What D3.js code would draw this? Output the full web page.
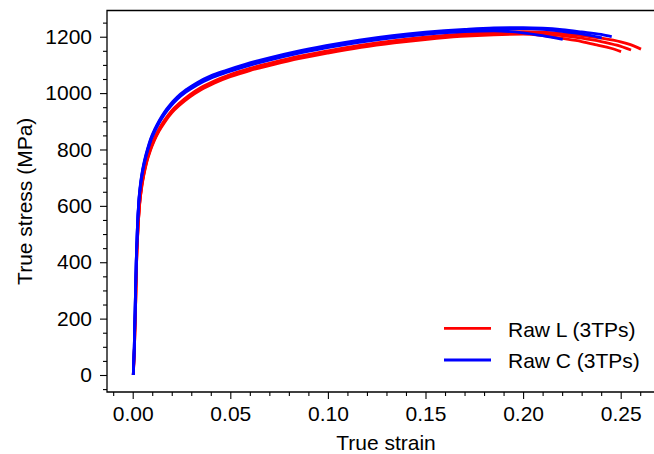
<!DOCTYPE html>
<html>
<head>
<meta charset="utf-8">
<script src="https://cdn.jsdelivr.net/npm/d3@7"></script>
<style>
  html, body { margin: 0; padding: 0; background: #fff; }
  svg { display: block; font-family: "Liberation Sans", Arial, sans-serif; }
</style>
</head>
<body>
<svg id="chart" width="654" height="454"></svg>
<script>
// True stress–strain curves, three test pieces per orientation
// Each curve: [true strain, true stress (MPa)]
const rawL1 = [
  [0.0003, 0], [0.0009, 100], [0.0015, 250], [0.0020, 400], [0.0027, 515], [0.0035, 600],
  [0.0045, 660], [0.0058, 712], [0.0072, 755], [0.0090, 795], [0.0110, 830], [0.0135, 865],
  [0.0165, 898], [0.0200, 930], [0.0240, 957], [0.0290, 985], [0.0350, 1012], [0.0420, 1036],
  [0.0500, 1058], [0.0600, 1080], [0.0720, 1101], [0.0850, 1122], [0.1000, 1142], [0.1170, 1162],
  [0.1340, 1178], [0.1510, 1191], [0.1680, 1201], [0.1850, 1207], [0.2000, 1209], [0.2100, 1204],
  [0.2200, 1194], [0.2300, 1183], [0.2377, 1171], [0.2450, 1159], [0.2502, 1147]
];
const rawL2 = [
  [0.0003, 0], [0.0009, 100], [0.0015, 252], [0.0020, 402], [0.0027, 518], [0.0035, 603],
  [0.0045, 664], [0.0058, 716], [0.0072, 759], [0.0090, 799], [0.0110, 834], [0.0135, 869],
  [0.0165, 902], [0.0200, 934], [0.0240, 961], [0.0290, 989], [0.0350, 1016], [0.0420, 1040],
  [0.0500, 1062], [0.0600, 1084], [0.0720, 1105], [0.0850, 1126], [0.1000, 1146], [0.1170, 1166],
  [0.1340, 1182], [0.1510, 1195], [0.1680, 1205], [0.1850, 1211], [0.2000, 1214], [0.2100, 1211],
  [0.2200, 1204], [0.2300, 1195], [0.2400, 1183], [0.2480, 1170], [0.2553, 1153]
];
const rawL3 = [
  [0.0003, 0], [0.0009, 100], [0.0015, 254], [0.0020, 404], [0.0027, 521], [0.0035, 606],
  [0.0045, 668], [0.0058, 720], [0.0072, 763], [0.0090, 803], [0.0110, 838], [0.0135, 873],
  [0.0165, 906], [0.0200, 938], [0.0240, 965], [0.0290, 993], [0.0350, 1020], [0.0420, 1044],
  [0.0500, 1066], [0.0600, 1088], [0.0720, 1109], [0.0850, 1130], [0.1000, 1150], [0.1170, 1170],
  [0.1340, 1186], [0.1510, 1199], [0.1680, 1209], [0.1850, 1215], [0.2000, 1218], [0.2100, 1216],
  [0.2200, 1211], [0.2300, 1204], [0.2400, 1195], [0.2500, 1182], [0.2550, 1172], [0.2604, 1156]
];
const rawC1 = [
  [0.0003, 0], [0.0008, 100], [0.0013, 250], [0.0018, 400], [0.0024, 520], [0.0031, 610],
  [0.0040, 672], [0.0050, 718], [0.0062, 758], [0.0077, 797], [0.0093, 832], [0.0113, 864],
  [0.0137, 896], [0.0163, 925], [0.0193, 952], [0.0228, 978], [0.0272, 1003], [0.0330, 1029],
  [0.0400, 1053], [0.0480, 1073], [0.0580, 1095], [0.0700, 1117], [0.0830, 1138], [0.0990, 1160],
  [0.1160, 1180], [0.1330, 1196], [0.1500, 1208], [0.1700, 1218], [0.1850, 1221], [0.2000, 1214],
  [0.2100, 1204], [0.2203, 1191]
];
const rawC2 = [
  [0.0003, 0], [0.0008, 100], [0.0013, 252], [0.0018, 402], [0.0024, 523], [0.0031, 613],
  [0.0040, 676], [0.0050, 722], [0.0062, 762], [0.0077, 801], [0.0093, 836], [0.0113, 868],
  [0.0137, 900], [0.0163, 929], [0.0193, 956], [0.0228, 982], [0.0272, 1007], [0.0330, 1033],
  [0.0400, 1057], [0.0480, 1077], [0.0580, 1099], [0.0700, 1121], [0.0830, 1142], [0.0990, 1164],
  [0.1160, 1184], [0.1330, 1200], [0.1500, 1212], [0.1700, 1222], [0.1850, 1227], [0.2000, 1229],
  [0.2100, 1226], [0.2200, 1219], [0.2300, 1210], [0.2403, 1196]
];
const rawC3 = [
  [0.0003, 0], [0.0008, 100], [0.0013, 254], [0.0018, 404], [0.0024, 526], [0.0031, 616],
  [0.0040, 680], [0.0050, 726], [0.0062, 766], [0.0077, 805], [0.0093, 840], [0.0113, 872],
  [0.0137, 904], [0.0163, 933], [0.0193, 960], [0.0228, 986], [0.0272, 1011], [0.0330, 1037],
  [0.0400, 1061], [0.0480, 1081], [0.0580, 1103], [0.0700, 1125], [0.0830, 1146], [0.0990, 1168],
  [0.1160, 1188], [0.1330, 1204], [0.1500, 1216], [0.1700, 1226], [0.1850, 1231], [0.2000, 1232],
  [0.2100, 1230], [0.2200, 1225], [0.2300, 1217], [0.2400, 1208], [0.2454, 1200]
];

const seriesNames = ["Raw L (3TPs)", "Raw C (3TPs)"];
const seriesColors = ["#ff0000", "#0000ff"];
const seriesCurves = [[rawL1, rawL2, rawL3], [rawC1, rawC2, rawC3]];

const xMajorTicks = [0.00, 0.05, 0.10, 0.15, 0.20, 0.25];
const yMajorTicks = [0, 200, 400, 600, 800, 1000, 1200];
const xDomain = [-0.01317, 0.2727];
const yDomain = [-60.3, 1293];

const svg = d3.select("#chart");
const plot = { left: 107, top: 10.5, right: 665, bottom: 392 };

const x = d3.scaleLinear().domain(xDomain).range([plot.left, plot.right]);
const y = d3.scaleLinear().domain(yDomain).range([plot.bottom, plot.top]);

const fontSize = 21;

// minor tick positions (0.01 strain, 50 MPa)
const xMinor = d3.range(-0.01, 0.2701, 0.01).filter(v => !xMajorTicks.some(t => Math.abs(t - v) < 1e-6));
const yMinor = d3.range(-50, 1291, 50).filter(v => !yMajorTicks.includes(v));

// curves
svg.append("defs").append("clipPath").attr("id", "plotClip")
  .append("rect").attr("x", plot.left).attr("y", plot.top)
  .attr("width", plot.right - plot.left).attr("height", plot.bottom - plot.top);

const line = d3.line().x(d => x(d[0])).y(d => y(d[1])).curve(d3.curveMonotoneX);
const curvesG = svg.append("g").attr("clip-path", "url(#plotClip)");
seriesCurves.forEach((curves, i) => {
  curves.forEach(c => {
    curvesG.append("path").datum(c).attr("d", line)
      .attr("fill", "none").attr("stroke", seriesColors[i])
      .attr("stroke-width", 2.8).attr("stroke-linejoin", "round");
  });
});

// axes
const xAxis = svg.append("g").attr("transform", `translate(0,${plot.bottom})`)
  .call(d3.axisBottom(x).tickValues(xMajorTicks).tickFormat(d3.format(".2f")).tickSize(7).tickPadding(7));
svg.append("g").attr("transform", `translate(0,${plot.bottom})`)
  .call(d3.axisBottom(x).tickValues(xMinor).tickFormat("").tickSize(4))
  .call(g => g.select(".domain").remove());

const yAxis = svg.append("g").attr("transform", `translate(${plot.left},0)`)
  .call(d3.axisLeft(y).tickValues(yMajorTicks).tickFormat(d3.format("d")).tickSize(7).tickPadding(8));
svg.append("g").attr("transform", `translate(${plot.left},0)`)
  .call(d3.axisLeft(y).tickValues(yMinor).tickFormat("").tickSize(4))
  .call(g => g.select(".domain").remove());

xAxis.select(".domain").remove();
yAxis.select(".domain").remove();

svg.selectAll(".tick line").attr("stroke", "#000").attr("stroke-width", 1.1);
svg.selectAll(".tick text").attr("fill", "#000").style("font-size", fontSize + "px")
  .style("font-family", "'Liberation Sans', Arial, sans-serif");

// frame: left, bottom and top spines
const frame = svg.append("g").attr("stroke", "#000").attr("stroke-width", 1.3).attr("fill", "none");
frame.append("path")
  .attr("d", `M${plot.right},${plot.top}H${plot.left}V${plot.bottom}H${plot.right}`);

// axis titles
svg.append("text").attr("x", (plot.left + plot.right) / 2).attr("y", 450)
  .attr("text-anchor", "middle").style("font-size", fontSize + "px").text("True strain");
svg.append("text").attr("transform", `translate(32,${(plot.top + plot.bottom) / 2}) rotate(-90)`)
  .attr("text-anchor", "middle").style("font-size", fontSize + "px").text("True stress (MPa)");

// legend
const legend = svg.append("g");
seriesNames.forEach((name, i) => {
  const ly = 328.3 + i * 31.7;
  legend.append("line").attr("x1", 444).attr("x2", 491).attr("y1", ly).attr("y2", ly)
    .attr("stroke", seriesColors[i]).attr("stroke-width", 2.8);
  legend.append("text").attr("x", 508).attr("y", ly + 8.2)
    .style("font-size", fontSize + "px").text(name);
});
</script>
</body>
</html>
